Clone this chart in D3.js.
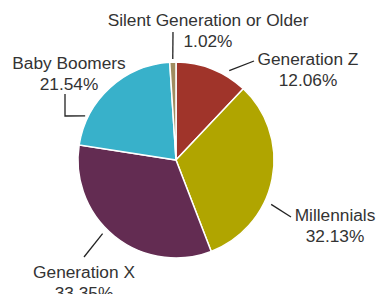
<!DOCTYPE html>
<html>
<head>
<meta charset="utf-8">
<script src="https://cdn.jsdelivr.net/npm/d3@7"></script>
<style>
    body { margin: 0; background: #fff; }
    svg { display: block; }
</style>
</head>
<body>
<div id="chart"></div>
<script>
// data
const categories = ["Generation Z", "Millennials", "Generation X", "Baby Boomers", "Silent Generation or Older"];
const shares = [12.06, 32.13, 33.35, 21.54, 1.02];
const colors = ["#a0342a", "#b0a500", "#632c52", "#38b1ca", "#a08c60"];

// graph dimensions
const width = 376;
const height = 294;
const cx = 176;
const cy = 160;
const radius = 98;

// label layout: where the leader meets the slice (fraction of slice), then
// leader points and text anchor as offsets from the pie centre
const labelLayout = [
    { t: 0.71, r: 104, path: [[78, -99]], text: [132, -95] },
    { t: 0.62, r: 105, path: [[115, 57]], text: [159, 61] },
    { t: 0.55, r: 104, path: [[-92, 97]], text: [-92, 118] },
    { t: 0.22, r: 101, path: [[-111, -44], [-111, -66]], text: [-107, -91] },
    { t: 0.5, r: 101, path: [[-3, -128]], text: [32, -134] }
];
const lineHeight = 21;

const svg = d3.select("#chart")
    .append("svg")
    .attr("width", width)
    .attr("height", height);

const g = svg.append("g")
    .attr("transform", "translate(" + cx + "," + cy + ")");

const pie = d3.pie().sort(null).value(d => d.value);
const arc = d3.arc().innerRadius(0).outerRadius(radius);

const slices = pie(categories.map((c, i) => ({ name: c, value: shares[i], color: colors[i] })));

// slices
g.selectAll(".slice")
    .data(slices)
    .enter().append("path")
    .attr("class", "slice")
    .attr("d", arc)
    .attr("fill", d => d.data.color)
    .attr("stroke", "#fff")
    .attr("stroke-width", 1.5);

// leader lines + labels
slices.forEach((d, i) => {
    const lay = labelLayout[i];
    const a = d.startAngle + (d.endAngle - d.startAngle) * lay.t;
    const start = [lay.r * Math.sin(a), -lay.r * Math.cos(a)];
    g.append("path")
        .attr("d", d3.line()([start].concat(lay.path)))
        .attr("fill", "none")
        .attr("stroke", "#222")
        .attr("stroke-width", 1.3);

    const txt = g.append("text")
        .attr("text-anchor", "middle")
        .attr("font-family", "Liberation Sans, Arial, sans-serif")
        .attr("font-size", "17.3px")
        .attr("fill", "#333");
    txt.append("tspan")
        .attr("x", lay.text[0])
        .attr("y", lay.text[1])
        .text(d.data.name);
    txt.append("tspan")
        .attr("x", lay.text[0])
        .attr("y", lay.text[1] + lineHeight)
        .text(d.data.value.toFixed(2) + "%");
});
</script>
</body>
</html>
